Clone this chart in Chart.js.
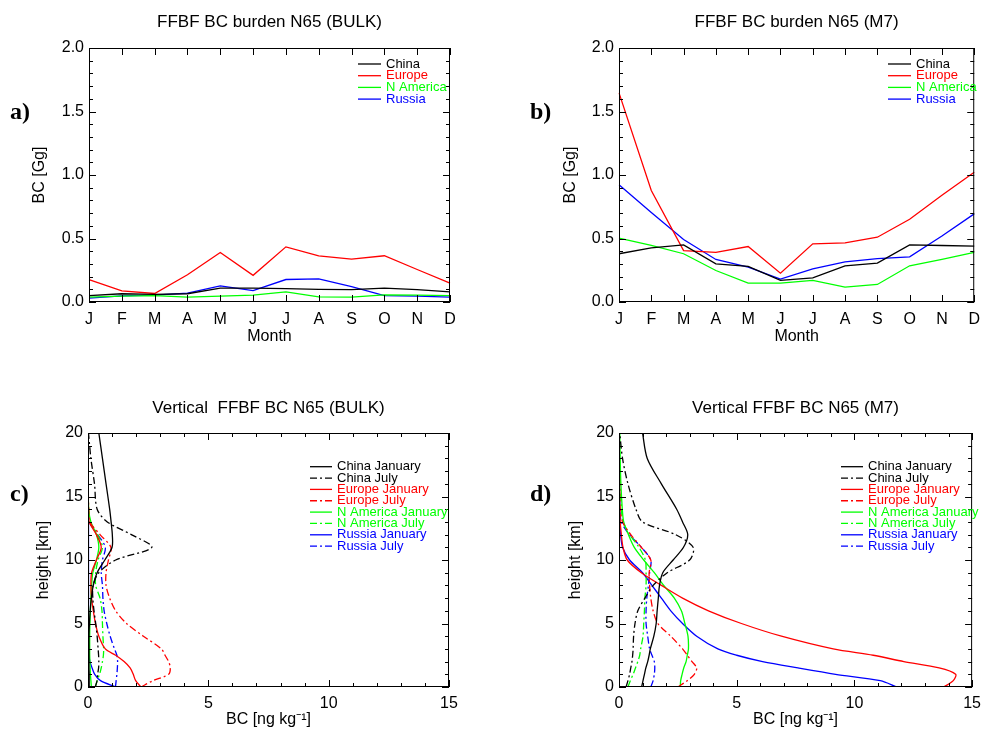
<!DOCTYPE html>
<html>
<head>
<meta charset="utf-8">
<script src="https://cdn.jsdelivr.net/npm/chart.js@4"></script>
<style>
  body { margin: 0; background: #fff; width: 988px; height: 730px; position: relative; overflow: hidden; }
  canvas { position: absolute; }
</style>
</head>
<body>
<canvas id="pa" width="494" height="365" style="left:0;top:0"></canvas>
<canvas id="pb" width="494" height="365" style="left:494px;top:0"></canvas>
<canvas id="pc" width="494" height="365" style="left:0;top:365px"></canvas>
<canvas id="pd" width="494" height="365" style="left:494px;top:365px"></canvas>
<script>
// monthly burden, Gg
const months = ['J', 'F', 'M', 'A', 'M', 'J', 'J', 'A', 'S', 'O', 'N', 'D'];
const bulkChina    = [0.05, 0.065, 0.06, 0.065, 0.11, 0.11, 0.105, 0.10, 0.098, 0.11, 0.098, 0.08];
const bulkEurope   = [0.177, 0.088, 0.067, 0.214, 0.39, 0.21, 0.434, 0.364, 0.337, 0.364, 0.256, 0.148];
const bulkNAmerica = [0.038, 0.046, 0.05, 0.038, 0.046, 0.054, 0.08, 0.04, 0.038, 0.056, 0.054, 0.05];
const bulkRussia   = [0.03, 0.049, 0.054, 0.07, 0.127, 0.09, 0.177, 0.182, 0.122, 0.05, 0.046, 0.038];
const m7China      = [0.38, 0.426, 0.45, 0.30, 0.28, 0.17, 0.19, 0.285, 0.306, 0.45, 0.445, 0.44];
const m7Europe     = [1.647, 0.878, 0.405, 0.39, 0.437, 0.227, 0.458, 0.466, 0.51, 0.652, 0.84, 1.022];
const m7NAmerica   = [0.503, 0.445, 0.38, 0.248, 0.148, 0.148, 0.17, 0.117, 0.138, 0.285, 0.335, 0.39];
const m7Russia     = [0.923, 0.705, 0.492, 0.335, 0.275, 0.18, 0.26, 0.316, 0.342, 0.356, 0.52, 0.694];

// vertical profiles, ng/kg at these heights (km)
const heights = [0, 0.5, 1, 1.5, 2, 2.5, 3, 4, 5, 6, 7, 8, 9, 10, 11, 12, 13, 14, 16, 18, 20];
const bulkChinaJan  = [0.05, 0.05, 0.05, 0.04, 0.04, 0.04, 0.04, 0.04, 0.06, 0.09, 0.14, 0.22, 0.38, 0.7, 1.0, 1.01, 0.96, 0.9, 0.75, 0.6, 0.45];
const bulkChinaJul  = [0.3, 0.38, 0.4, 0.44, 0.45, 0.44, 0.42, 0.38, 0.32, 0.25, 0.2, 0.21, 0.45, 1.15, 2.65, 1.8, 0.8, 0.38, 0.27, 0.12, 0.02];
const bulkEuropeJan = [2.2, 1.98, 1.88, 1.75, 1.5, 1.15, 0.72, 0.45, 0.31, 0.22, 0.15, 0.12, 0.15, 0.35, 0.55, 0.35, 0.05, 0.02, 0.01, 0, 0];
const bulkEuropeJul = [2.2, 2.7, 3.35, 3.42, 3.35, 3.2, 3.05, 2.3, 1.6, 1.15, 0.9, 0.75, 0.75, 0.85, 0.95, 0.5, 0.08, 0.03, 0.01, 0, 0];
const bulkNAmJan    = [0.14, 0.12, 0.1, 0.09, 0.08, 0.07, 0.07, 0.07, 0.08, 0.1, 0.12, 0.15, 0.2, 0.35, 0.45, 0.35, 0.12, 0.03, 0.01, 0, 0];
const bulkNAmJul    = [0.3, 0.38, 0.48, 0.55, 0.6, 0.64, 0.65, 0.62, 0.6, 0.58, 0.5, 0.32, 0.32, 0.42, 0.6, 0.4, 0.08, 0.02, 0.01, 0, 0];
const bulkRussiaJan = [1.15, 0.52, 0.28, 0.17, 0.08, 0.04, 0.03, 0.02, 0.02, 0.02, 0.02, 0.02, 0.02, 0.02, 0.02, 0.02, 0.02, 0.01, 0.01, 0.01, 0.01];
const bulkRussiaJul = [1.14, 1.17, 1.2, 1.22, 1.23, 1.2, 1.1, 0.92, 0.78, 0.67, 0.62, 0.6, 0.55, 0.6, 0.72, 0.4, 0.05, 0.01, 0, 0, 0];
const m7ChinaJan    = [0.96, 1.02, 1.08, 1.14, 1.22, 1.28, 1.33, 1.48, 1.58, 1.62, 1.67, 1.72, 1.86, 2.3, 2.74, 2.92, 2.7, 2.45, 1.8, 1.2, 1.0];
const m7ChinaJul    = [0.3, 0.38, 0.45, 0.5, 0.55, 0.58, 0.6, 0.62, 0.68, 0.8, 1.1, 1.45, 2.05, 3.0, 3.15, 2.4, 1.0, 0.72, 0.38, 0.15, 0.03];
const m7EuropeJan   = [13.8, 14.2, 14.3, 13.6, 12.1, 10.8, 9.1, 6.9, 5.2, 3.8, 2.7, 1.8, 0.95, 0.35, 0.17, 0.1, 0.05, 0.03, 0.02, 0.01, 0];
const m7EuropeJul   = [2.5, 2.9, 3.2, 3.3, 3.1, 2.9, 2.7, 2.2, 1.65, 1.45, 1.35, 1.3, 1.28, 1.35, 0.95, 0.5, 0.15, 0.05, 0.02, 0.01, 0];
const m7NAmJan      = [2.6, 2.62, 2.68, 2.75, 2.85, 2.9, 2.95, 2.93, 2.8, 2.65, 2.35, 1.9, 1.5, 1.05, 0.65, 0.4, 0.2, 0.14, 0.08, 0.05, 0.03];
const m7NAmJul      = [0.38, 0.48, 0.6, 0.7, 0.8, 0.88, 0.92, 1.02, 1.05, 1.08, 1.1, 1.15, 1.15, 1.12, 0.85, 0.45, 0.18, 0.1, 0.05, 0.03, 0.02];
const m7RussiaJan   = [11.8, 11.1, 9.2, 7.6, 6.1, 5.0, 4.2, 3.3, 2.7, 2.2, 1.8, 1.4, 1.0, 0.45, 0.15, 0.07, 0.04, 0.03, 0.02, 0.01, 0];
const m7RussiaJul   = [1.35, 1.45, 1.5, 1.52, 1.5, 1.4, 1.3, 1.22, 1.15, 1.15, 1.18, 1.25, 1.3, 1.35, 0.95, 0.44, 0.1, 0.04, 0.02, 0.01, 0];

const FONT = '"Liberation Sans", Arial, Helvetica, sans-serif';
const DASHDOT = [7, 3, 2, 3];
Chart.defaults.font.family = FONT;
Chart.defaults.font.size = 16;
Chart.defaults.color = '#000';

// tick list: [value, length]
function tickList(min, max, minor, major) {
  const out = [];
  for (let i = 0; min + i * minor <= max + 1e-9; i++) {
    const v = +(min + i * minor).toFixed(6);
    const isMajor = Math.abs(v / major - Math.round(v / major)) < 1e-6;
    out.push([v, isMajor ? 7 : 4]);
  }
  return out;
}

// IDL-ish box, inward ticks, titles and legend
const frame = {
  id: 'frame',
  afterDatasetsDraw(chart, args, o) {
    const ctx = chart.ctx, a = chart.chartArea;
    const sx = chart.scales.x, sy = chart.scales.y;
    ctx.save();
    ctx.strokeStyle = '#000';
    ctx.lineWidth = 1;
    ctx.setLineDash([]);
    ctx.beginPath();
    o.xTicks.forEach(([v, len]) => {
      const p = Math.round(sx.getPixelForValue(v)) + 0.5;
      ctx.moveTo(p, a.bottom); ctx.lineTo(p, a.bottom - len);
      ctx.moveTo(p, a.top); ctx.lineTo(p, a.top + len);
    });
    o.yTicks.forEach(([v, len]) => {
      const p = Math.round(sy.getPixelForValue(v)) + 0.5;
      ctx.moveTo(a.left, p); ctx.lineTo(a.left + len, p);
      ctx.moveTo(a.right, p); ctx.lineTo(a.right - len, p);
    });
    ctx.stroke();
    ctx.strokeRect(a.left + 0.5, a.top + 0.5, a.width - 1, a.height - 1);

    const cx = (a.left + a.right) / 2;
    ctx.fillStyle = '#000';
    ctx.textAlign = 'center';
    ctx.textBaseline = 'middle';
    ctx.font = '17px ' + FONT;
    ctx.fillText(o.title, cx, o.titleY);
    ctx.font = '16px ' + FONT;
    ctx.fillText(o.xTitle, cx, o.xTitleY);
    ctx.save();
    ctx.translate(o.yTitleX, (a.top + a.bottom) / 2);
    ctx.rotate(-Math.PI / 2);
    ctx.fillText(o.yTitle, 0, 0);
    ctx.restore();

    ctx.textAlign = 'left';
    ctx.font = 'bold 24px "Liberation Serif", "Times New Roman", serif';
    ctx.fillText(o.letter, o.letterX, o.letterY);

    ctx.font = '13px ' + FONT;
    chart.data.datasets.forEach((ds, i) => {
      const y = o.legY + i * o.legStep;
      ctx.strokeStyle = ds.borderColor;
      ctx.lineWidth = 1.3;
      ctx.setLineDash(ds.borderDash || []);
      ctx.beginPath();
      ctx.moveTo(o.legX, y);
      ctx.lineTo(o.legX + o.legLen, y);
      ctx.stroke();
      ctx.fillStyle = ds.borderColor;
      ctx.fillText(ds.label, o.legX + o.legLen + 5, y);
    });
    ctx.restore();
  }
};

function monthlyChart(id, series, opts) {
  const colors = ['#000000', '#ff0000', '#00ff00', '#0000ff'];
  const names = ['China', 'Europe', 'N America', 'Russia'];
  return new Chart(document.getElementById(id), {
    type: 'line',
    data: {
      labels: months,
      datasets: series.map((s, i) => ({
        label: names[i], data: s, borderColor: colors[i], borderWidth: 1.3,
        pointRadius: 0, tension: 0, fill: false
      }))
    },
    options: {
      responsive: false,
      animation: false,
      layout: { padding: { top: 48, right: opts.padRight, left: 0, bottom: 0 } },
      plugins: {
        legend: { display: false },
        tooltip: { enabled: false },
        frame: Object.assign({
          xTicks: months.map((m, i) => [i, 7]),
          yTicks: tickList(0, 2, 0.1, 0.5),
          xTitle: 'Month', yTitle: 'BC [Gg]',
          titleY: 22.5, xTitleY: 337, letterY: 113,
          legY: 64, legStep: 11.7, legLen: 23
        }, opts.frame)
      },
      scales: {
        x: {
          type: 'category', offset: false,
          grid: { display: false, drawTicks: false }, border: { display: false },
          ticks: { padding: 8, autoSkip: false, maxRotation: 0 },
          afterFit: s => { s.height = 63; }
        },
        y: {
          min: 0, max: 2,
          grid: { display: false, drawTicks: false }, border: { display: false },
          ticks: { stepSize: 0.5, padding: 5, callback: v => v.toFixed(1) },
          afterFit: s => { s.width = opts.yWidth; }
        }
      }
    },
    plugins: [frame]
  });
}

function profileChart(id, series, opts) {
  const colors = ['#000000', '#000000', '#ff0000', '#ff0000', '#00ff00', '#00ff00', '#0000ff', '#0000ff'];
  const names = ['China January', 'China July', 'Europe January', 'Europe July',
                 'N America January', 'N America July', 'Russia January', 'Russia July'];
  return new Chart(document.getElementById(id), {
    type: 'scatter',
    data: {
      datasets: series.map((s, i) => ({
        label: names[i],
        data: s.map((v, k) => ({ x: v, y: heights[k] })),
        borderColor: colors[i], backgroundColor: colors[i], borderWidth: 1.3,
        borderDash: i % 2 ? DASHDOT : [],
        showLine: true, pointRadius: 0, tension: 0.3, fill: false
      }))
    },
    options: {
      responsive: false,
      animation: false,
      layout: { padding: { top: 68, right: opts.padRight, left: 0, bottom: 0 } },
      plugins: {
        legend: { display: false },
        tooltip: { enabled: false },
        frame: Object.assign({
          xTicks: tickList(0, 15, 1, 5),
          yTicks: tickList(0, 20, 1, 5),
          xTitle: 'BC [ng kg\u207B\u00B9]', yTitle: 'height [km]',
          titleY: 43, xTitleY: 355, letterY: 130,
          legY: 101.7, legStep: 11.35, legLen: 22
        }, opts.frame)
      },
      scales: {
        x: {
          type: 'linear', min: 0, max: 15,
          grid: { display: false, drawTicks: false }, border: { display: false },
          ticks: { stepSize: 5, padding: 7 },
          afterFit: s => { s.height = 43; }
        },
        y: {
          type: 'linear', min: 0, max: 20,
          grid: { display: false, drawTicks: false }, border: { display: false },
          ticks: { stepSize: 5, padding: 5 },
          afterFit: s => { s.width = opts.yWidth; }
        }
      }
    },
    plugins: [frame]
  });
}

monthlyChart('pa', [bulkChina, bulkEurope, bulkNAmerica, bulkRussia], {
  yWidth: 89, padRight: 44,
  frame: { title: 'FFBF BC burden N65 (BULK)', letter: 'a)', letterX: 10, yTitleX: 40, legX: 358 }
});
monthlyChart('pb', [m7China, m7Europe, m7NAmerica, m7Russia], {
  yWidth: 125, padRight: 8,
  frame: { title: 'FFBF BC burden N65 (M7)', letter: 'b)', letterX: 36, yTitleX: 77, legX: 394 }
});
profileChart('pc', [bulkChinaJan, bulkChinaJul, bulkEuropeJan, bulkEuropeJul,
                    bulkNAmJan, bulkNAmJul, bulkRussiaJan, bulkRussiaJul], {
  yWidth: 88, padRight: 45,
  frame: { title: 'Vertical  FFBF BC N65 (BULK)', letter: 'c)', letterX: 10, yTitleX: 44, legX: 310 }
});
profileChart('pd', [m7ChinaJan, m7ChinaJul, m7EuropeJan, m7EuropeJul,
                    m7NAmJan, m7NAmJul, m7RussiaJan, m7RussiaJul], {
  yWidth: 125, padRight: 8,
  frame: { title: 'Vertical FFBF BC N65 (M7)', letter: 'd)', letterX: 36, yTitleX: 82, legX: 347 }
});
</script>
</body>
</html>
